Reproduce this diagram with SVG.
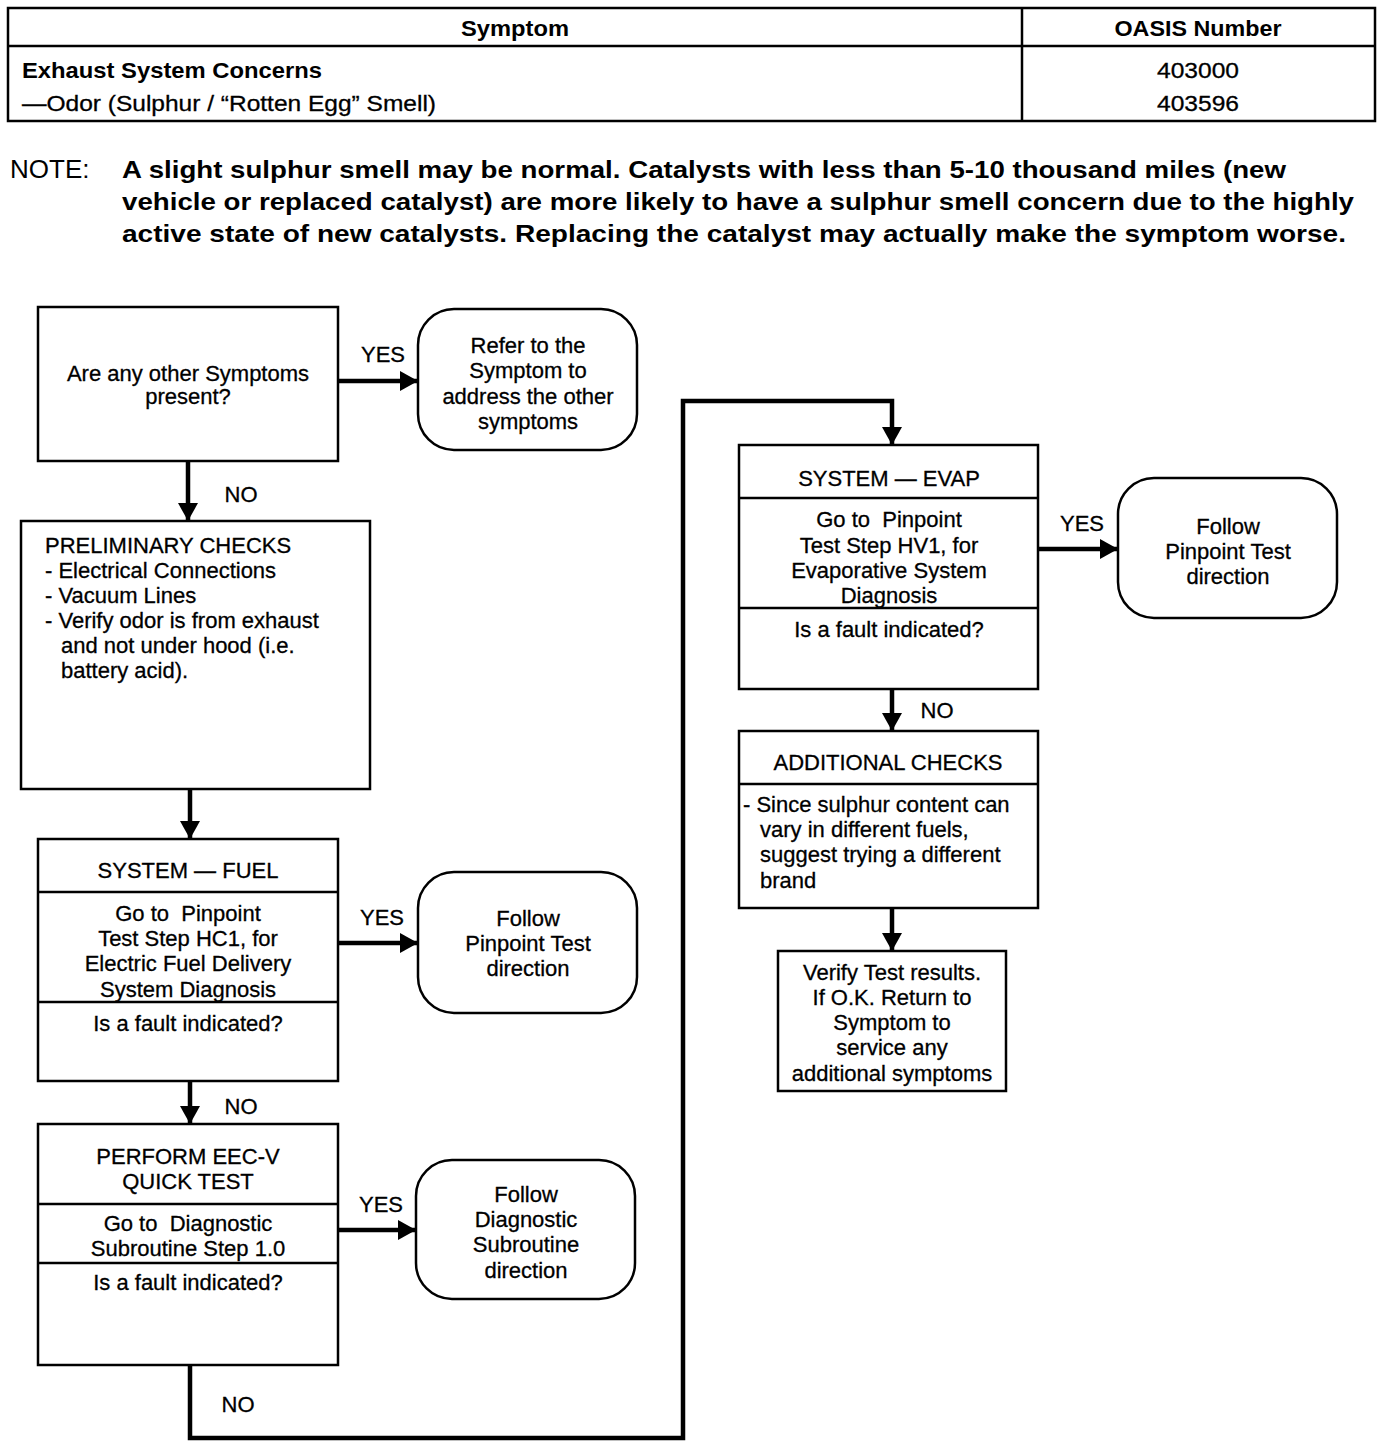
<svg xmlns="http://www.w3.org/2000/svg" width="1392" height="1450" viewBox="0 0 1392 1450">
<defs>
<marker id="ah" markerUnits="userSpaceOnUse" markerWidth="18" markerHeight="20" refX="18" refY="10" orient="auto">
<path d="M0,0 L18,10 L0,20 z" fill="#000"/>
</marker>
<style>
text{font-family:"Liberation Sans",Arial,sans-serif;fill:#000}
.t{font-size:22px;stroke:#000;stroke-width:0.3}
.tb{font-size:22px;font-weight:bold}
.c{text-anchor:middle}
.n{font-size:24px;font-weight:bold}
.box{fill:#fff;stroke:#000;stroke-width:2.5}
.div{stroke:#000;stroke-width:2.5}
.conn{fill:none;stroke:#000;stroke-width:4.5}
.lbl{font-size:22px;stroke:#000;stroke-width:0.3}
</style>
</defs>
<rect width="1392" height="1450" fill="#fff"/>

<g id="table">
<rect x="8" y="8" width="1367" height="113" fill="none" stroke="#000" stroke-width="2.5"/>
<line x1="8" y1="46" x2="1375" y2="46" class="div"/>
<line x1="1022" y1="8" x2="1022" y2="121" class="div"/>
<text x="515" y="36" class="tb c" textLength="108" lengthAdjust="spacingAndGlyphs">Symptom</text>
<text x="1198" y="36" class="tb c" textLength="167" lengthAdjust="spacingAndGlyphs">OASIS Number</text>
<text x="22" y="78" class="tb" textLength="300" lengthAdjust="spacingAndGlyphs">Exhaust System Concerns</text>
<text x="22" y="111" class="t" textLength="414" lengthAdjust="spacingAndGlyphs">—Odor (Sulphur / “Rotten Egg” Smell)</text>
<text x="1198" y="78" class="t c" textLength="82" lengthAdjust="spacingAndGlyphs">403000</text>
<text x="1198" y="111" class="t c" textLength="82" lengthAdjust="spacingAndGlyphs">403596</text>
</g>

<g id="note">
<text x="10" y="178" style="font-size:26px">NOTE:</text>
<text x="122" y="178" class="n" textLength="1164" lengthAdjust="spacingAndGlyphs">A slight sulphur smell may be normal. Catalysts with less than 5-10 thousand miles (new</text>
<text x="122" y="210" class="n" textLength="1232" lengthAdjust="spacingAndGlyphs">vehicle or replaced catalyst) are more likely to have a sulphur smell concern due to the highly</text>
<text x="122" y="242" class="n" textLength="1224" lengthAdjust="spacingAndGlyphs">active state of new catalysts. Replacing the catalyst may actually make the symptom worse.</text>
</g>

<g id="connectors">
<line x1="338" y1="381" x2="418" y2="381" class="conn" marker-end="url(#ah)"/>
<line x1="188" y1="461" x2="188" y2="521" class="conn" marker-end="url(#ah)"/>
<line x1="190" y1="789" x2="190" y2="839" class="conn" marker-end="url(#ah)"/>
<line x1="338" y1="943" x2="418" y2="943" class="conn" marker-end="url(#ah)"/>
<line x1="190" y1="1081" x2="190" y2="1124" class="conn" marker-end="url(#ah)"/>
<line x1="338" y1="1230" x2="416" y2="1230" class="conn" marker-end="url(#ah)"/>
<path d="M190,1365 L190,1438 L683,1438 L683,401 L892,401 L892,445" class="conn" marker-end="url(#ah)"/>
<line x1="1038" y1="549" x2="1118" y2="549" class="conn" marker-end="url(#ah)"/>
<line x1="892" y1="689" x2="892" y2="731" class="conn" marker-end="url(#ah)"/>
<line x1="892" y1="908" x2="892" y2="951" class="conn" marker-end="url(#ah)"/>
<text x="383" y="362" class="lbl c">YES</text>
<text x="241" y="502" class="lbl c">NO</text>
<text x="382" y="925" class="lbl c">YES</text>
<text x="241" y="1114" class="lbl c">NO</text>
<text x="381" y="1212" class="lbl c">YES</text>
<text x="238" y="1412" class="lbl c">NO</text>
<text x="1082" y="531" class="lbl c">YES</text>
<text x="937" y="718" class="lbl c">NO</text>
</g>

<g id="q-symptoms">
<rect x="38" y="307" width="300" height="154" class="box"/>
<text x="188" y="381" class="t c">Are any other Symptoms</text>
<text x="188" y="404" class="t c">present?</text>
</g>

<g id="refer">
<rect x="418" y="309" width="219" height="141" rx="36" class="box"/>
<text x="528" y="353" class="t c">Refer to the</text>
<text x="528" y="378" class="t c">Symptom to</text>
<text x="528" y="404" class="t c">address the other</text>
<text x="528" y="429" class="t c">symptoms</text>
</g>

<g id="preliminary">
<rect x="21" y="521" width="349" height="268" class="box"/>
<text x="45" y="553" class="t">PRELIMINARY CHECKS</text>
<text x="45" y="578" class="t">- Electrical Connections</text>
<text x="45" y="603" class="t">- Vacuum Lines</text>
<text x="45" y="628" class="t">- Verify odor is from exhaust</text>
<text x="61" y="653" class="t">and not under hood (i.e.</text>
<text x="61" y="678" class="t">battery acid).</text>
</g>

<g id="system-fuel">
<rect x="38" y="839" width="300" height="242" class="box"/>
<line x1="38" y1="892" x2="338" y2="892" class="div"/>
<line x1="38" y1="1002" x2="338" y2="1002" class="div"/>
<text x="188" y="878" class="t c">SYSTEM — FUEL</text>
<text x="188" y="921" class="t c">Go to&#160; Pinpoint</text>
<text x="188" y="946" class="t c">Test Step HC1, for</text>
<text x="188" y="971" class="t c">Electric Fuel Delivery</text>
<text x="188" y="997" class="t c">System Diagnosis</text>
<text x="188" y="1031" class="t c">Is a fault indicated?</text>
</g>

<g id="follow-fuel">
<rect x="418" y="872" width="219" height="141" rx="36" class="box"/>
<text x="528" y="926" class="t c">Follow</text>
<text x="528" y="951" class="t c">Pinpoint Test</text>
<text x="528" y="976" class="t c">direction</text>
</g>

<g id="eec">
<rect x="38" y="1124" width="300" height="241" class="box"/>
<line x1="38" y1="1204" x2="338" y2="1204" class="div"/>
<line x1="38" y1="1263" x2="338" y2="1263" class="div"/>
<text x="188" y="1164" class="t c">PERFORM EEC-V</text>
<text x="188" y="1189" class="t c">QUICK TEST</text>
<text x="188" y="1231" class="t c">Go to&#160; Diagnostic</text>
<text x="188" y="1256" class="t c">Subroutine Step 1.0</text>
<text x="188" y="1290" class="t c">Is a fault indicated?</text>
</g>

<g id="follow-diag">
<rect x="416" y="1160" width="219" height="139" rx="36" class="box"/>
<text x="526" y="1202" class="t c">Follow</text>
<text x="526" y="1227" class="t c">Diagnostic</text>
<text x="526" y="1252" class="t c">Subroutine</text>
<text x="526" y="1278" class="t c">direction</text>
</g>

<g id="system-evap">
<rect x="739" y="445" width="299" height="244" class="box"/>
<line x1="739" y1="498" x2="1038" y2="498" class="div"/>
<line x1="739" y1="608" x2="1038" y2="608" class="div"/>
<text x="889" y="486" class="t c">SYSTEM — EVAP</text>
<text x="889" y="527" class="t c">Go to&#160; Pinpoint</text>
<text x="889" y="553" class="t c">Test Step HV1, for</text>
<text x="889" y="578" class="t c">Evaporative System</text>
<text x="889" y="603" class="t c">Diagnosis</text>
<text x="889" y="637" class="t c">Is a fault indicated?</text>
</g>

<g id="follow-evap">
<rect x="1118" y="478" width="219" height="140" rx="36" class="box"/>
<text x="1228" y="534" class="t c">Follow</text>
<text x="1228" y="559" class="t c">Pinpoint Test</text>
<text x="1228" y="584" class="t c">direction</text>
</g>

<g id="additional">
<rect x="739" y="731" width="299" height="177" class="box"/>
<line x1="739" y1="784" x2="1038" y2="784" class="div"/>
<text x="888" y="770" class="t c">ADDITIONAL CHECKS</text>
<text x="743" y="812" class="t">- Since sulphur content can</text>
<text x="760" y="837" class="t">vary in different fuels,</text>
<text x="760" y="862" class="t">suggest trying a different</text>
<text x="760" y="888" class="t">brand</text>
</g>

<g id="verify">
<rect x="778" y="951" width="228" height="140" class="box"/>
<text x="892" y="980" class="t c">Verify Test results.</text>
<text x="892" y="1005" class="t c">If O.K. Return to</text>
<text x="892" y="1030" class="t c">Symptom to</text>
<text x="892" y="1055" class="t c">service any</text>
<text x="892" y="1081" class="t c">additional symptoms</text>
</g>
</svg>
